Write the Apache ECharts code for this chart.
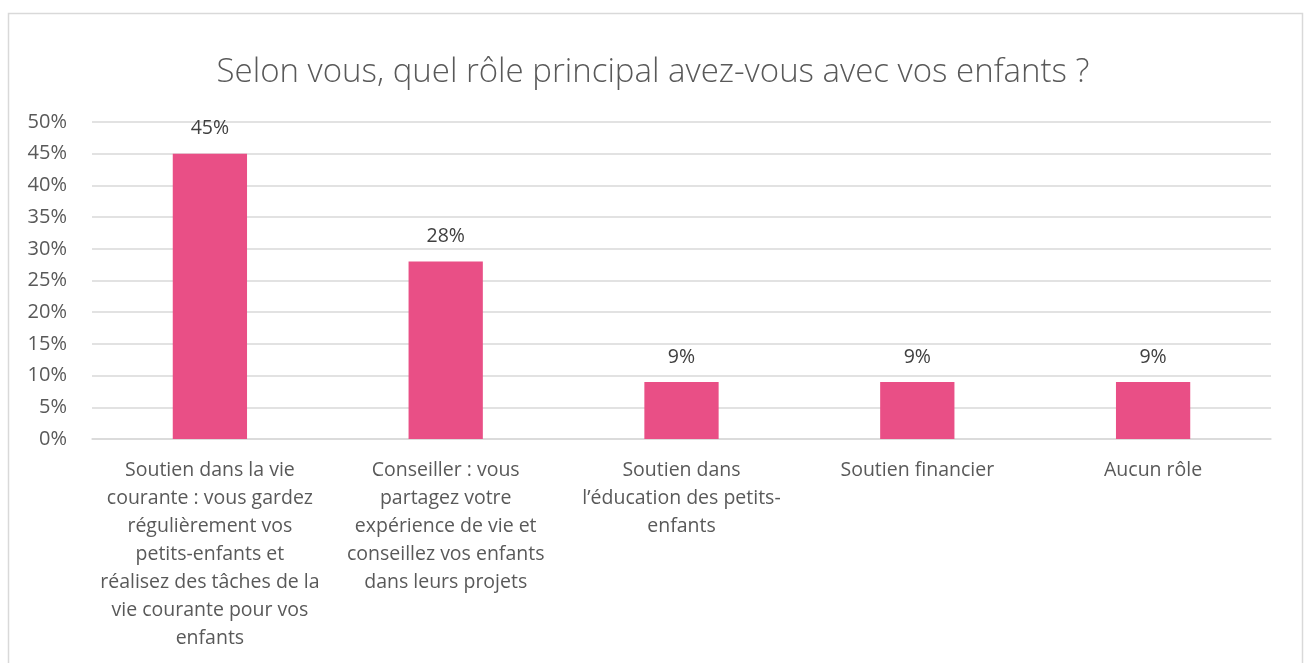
<!DOCTYPE html>
<html lang="fr">
<head>
    <meta charset="UTF-8">
    <title>Rôle principal</title>
    <style>
        html, body { margin: 0; padding: 0; background: #fff; }
        #chart { width: 1306px; height: 663px; }
    </style>
</head>
<body>
<div id="chart"></div>
<script src="https://cdn.jsdelivr.net/npm/echarts@6/dist/echarts.min.js"></script>
<script>
    var categories = [
        'Soutien dans la vie\ncourante : vous gardez\nrégulièrement vos\npetits-enfants et\nréalisez des tâches de la\nvie courante pour vos\nenfants',
        'Conseiller : vous\npartagez votre\nexpérience de vie et\nconseillez vos enfants\ndans leurs projets',
        'Soutien dans\nl’éducation des petits-\nenfants',
        'Soutien financier',
        'Aucun rôle'
    ];
    var values = [45, 28, 9, 9, 9];

    var font = '"Open Sans", "Noto Sans", sans-serif';
    var mChart = echarts.init(document.getElementById('chart'));

    var option = {
        animation: false,
        // cadre gris autour du graphique
        graphic: [{
            type: 'rect',
            shape: { x: 8.5, y: 13.5, width: 1294, height: 700 },
            style: { fill: 'none', stroke: '#d9d9d9', lineWidth: 1.5 },
            z: -1
        }],
        title: {
            text: 'Selon vous, quel rôle principal avez-vous avec vos enfants ?',
            left: 'center',
            top: 51,
            textStyle: {
                fontFamily: font,
                fontSize: 33,
                fontWeight: 300,
                color: '#595959'
            }
        },
        grid: {
            left: 92,
            right: 35,
            top: 122,
            bottom: 224,
            containLabel: false
        },
        xAxis: {
            type: 'category',
            data: categories,
            axisLine: { lineStyle: { color: '#d9d9d9', width: 1.5 } },
            axisTick: { show: false },
            axisLabel: {
                interval: 0,
                margin: 17,
                fontFamily: font,
                fontSize: 19.5,
                lineHeight: 28,
                color: '#595959',
                align: 'center'
            }
        },
        yAxis: {
            type: 'value',
            min: 0,
            max: 50,
            interval: 5,
            axisLine: { show: false },
            axisTick: { show: false },
            axisLabel: {
                formatter: '{value}%',
                margin: 25,
                fontFamily: font,
                fontSize: 20,
                color: '#595959'
            },
            splitLine: { lineStyle: { color: '#d9d9d9', width: 1.5 } }
        },
        series: [{
            type: 'bar',
            data: values,
            barWidth: '31.5%',
            itemStyle: { color: '#e94f86' },
            label: {
                show: true,
                position: 'top',
                distance: 15,
                formatter: '{c}%',
                fontFamily: font,
                fontSize: 19.5,
                color: '#404040'
            }
        }]
    };

    mChart.setOption(option);
</script>
</body>
</html>
